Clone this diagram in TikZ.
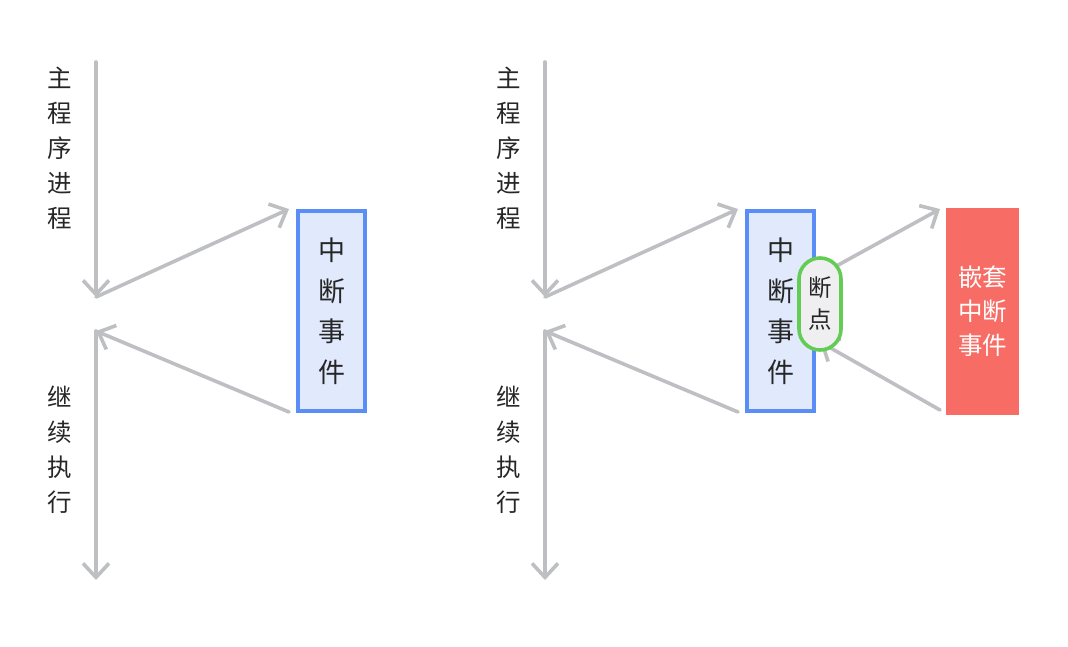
\documentclass[tikz,border=0pt]{standalone}
\usepackage{fontspec}
\newfontfamily\cjk{Noto Sans CJK SC}
\usetikzlibrary{arrows.meta}
\definecolor{flowgray}{HTML}{BDBFC3}
\definecolor{isrblue}{HTML}{5B8DF6}
\definecolor{isrfill}{HTML}{E1E9FC}
\definecolor{bpgreen}{HTML}{62CC55}
\definecolor{bpfill}{HTML}{EFEFF1}
\definecolor{nestred}{HTML}{F76C64}
\definecolor{txt}{HTML}{262626}

\begin{document}
\begin{tikzpicture}[x=1pt,y=-1pt,
  flow/.style={line width=3.6pt,flowgray,line cap=round,line join=round,
    -{Straight Barb[length=14pt,width=26pt]}},
  lbl/.style={align=center,text=txt,inner sep=0pt,
    font=\cjk\fontsize{24.5}{35}\selectfont},
  isr/.style={draw=isrblue,fill=isrfill,line width=3.6pt,inner sep=0pt,
    minimum width=67pt,minimum height=200pt,align=center,text=txt,
    font=\cjk\fontsize{27}{40.5}\selectfont},
  bp/.style={draw=bpgreen,fill=bpfill,line width=3.6pt,inner sep=0pt,
    rounded corners=21pt,minimum width=42pt,minimum height=92pt,
    align=center,text=txt,font=\cjk\fontsize{23.5}{32}\selectfont},
  nest/.style={fill=nestred,inner sep=0pt,minimum width=73pt,
    minimum height=207pt,align=center,text=white,
    font=\cjk\fontsize{24.5}{34}\selectfont}]
  \useasboundingbox (0,0) rectangle (1068,646);

  \foreach \p/\dx in {l/0,r/449} {
    \coordinate (top\p) at (96+\dx,62);
    \coordinate (irq\p) at (96+\dx,297);
    \coordinate (back\p) at (96+\dx,331);
    \coordinate (bot\p) at (96+\dx,580);
    \coordinate (in\p) at (289+\dx,209);
    \coordinate (out\p) at (289+\dx,412);
    \node[lbl] (main\p) at (60+\dx,148) {主\\程\\序\\进\\程};
    \node[lbl] (cont\p) at (60+\dx,450) {继\\续\\执\\行};
    \node[isr] (isr\p) at (331.5+\dx,311) {中\\断\\事\\件};
    \draw[flow] (top\p) -- (irq\p);
    \draw[flow] (irq\p) -- (in\p);
    \draw[flow] (out\p) -- (back\p);
    \draw[flow] (back\p) -- (bot\p);
  }

  % nested interrupt
  \coordinate (bpOut) at (820,275);
  \coordinate (bpIn) at (820,342);
  \coordinate (nestIn) at (940,209);
  \coordinate (nestOut) at (940,410);
  \draw[flow] (bpOut) -- (nestIn);
  \draw[flow] (nestOut) -- (bpIn);
  \node[bp] (bp) at (820,304) {断\\点};
  \node[nest] (nest) at (982.5,311.5) {嵌套\\中断\\事件};
\end{tikzpicture}
\end{document}
